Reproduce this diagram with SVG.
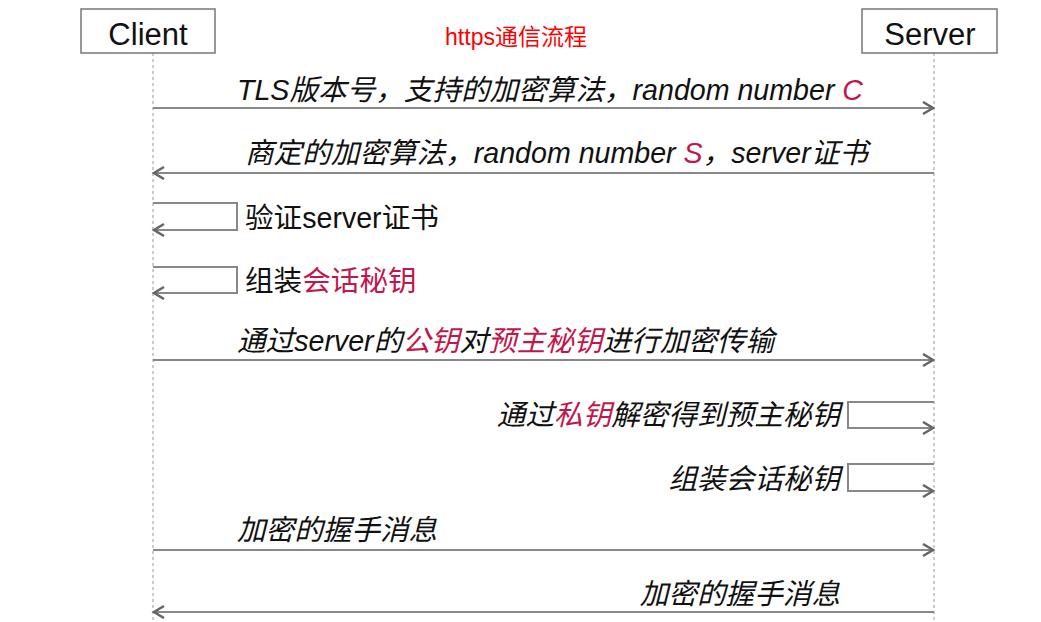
<svg xmlns="http://www.w3.org/2000/svg" width="1041" height="622" viewBox="0 0 1041 622">
<style>
.box{fill:#fff;stroke:#777;stroke-width:1.5}
.life{stroke:#aaa;stroke-width:1.2;stroke-dasharray:3,3;fill:none}
.msg{stroke:#888;stroke-width:2;fill:none}
.hdr{font-family:"Liberation Sans","Noto Sans CJK SC",sans-serif;font-size:31px;fill:#111;text-anchor:middle}
.lbl{font-family:"Liberation Sans","Noto Sans CJK SC",sans-serif;font-size:28.6px;fill:#111}
.it{font-style:italic}
.end{text-anchor:end}
.red{fill:#c2174b}
.title{font-family:"Liberation Sans","Noto Sans CJK SC",sans-serif;font-size:23px;fill:#ff0000;text-anchor:middle}
</style>
<defs>
<marker id="ah" markerWidth="14" markerHeight="16" refX="11" refY="7" orient="auto" markerUnits="userSpaceOnUse">
<path d="M1,1 L11,7 L1,13" fill="none" stroke="#666" stroke-width="2.5"/>
</marker>
</defs>
<rect width="1041" height="622" fill="#fff"/>
<g id="lifelines">
<line class="life" x1="153" y1="53" x2="153" y2="622"/>
<line class="life" x1="934" y1="53" x2="934" y2="622"/>
</g>
<g id="client"><rect class="box" x="81" y="9" width="134" height="44"/><text class="hdr" x="148" y="45">Client</text></g>
<g id="server"><rect class="box" x="862" y="9" width="135" height="44"/><text class="hdr" x="930" y="45">Server</text></g>
<g id="title"><text class="title" x="516" y="45">https通信流程</text></g>
<g id="connectors">
<line class="msg" x1="153" y1="108" x2="933" y2="108" marker-end="url(#ah)"/>
<line class="msg" x1="934" y1="173" x2="154" y2="173" marker-end="url(#ah)"/>
<polyline class="msg" points="153,203 237,203 237,230 154,230" marker-end="url(#ah)"/>
<polyline class="msg" points="153,267 237,267 237,293 154,293" marker-end="url(#ah)"/>
<line class="msg" x1="153" y1="360" x2="933" y2="360" marker-end="url(#ah)"/>
<polyline class="msg" points="934,402 848,402 848,428 933,428" marker-end="url(#ah)"/>
<polyline class="msg" points="934,464 848,464 848,491 933,491" marker-end="url(#ah)"/>
<line class="msg" x1="153" y1="550" x2="933" y2="550" marker-end="url(#ah)"/>
<line class="msg" x1="934" y1="612" x2="154" y2="612" marker-end="url(#ah)"/>
</g>
<g id="labels">
<text class="lbl it" x="237" y="100">TLS版本号，支持的加密算法，random number <tspan class="red">C</tspan></text>
<text class="lbl it" x="245" y="163">商定的加密算法，random number <tspan class="red">S</tspan>，server证书</text>
<text class="lbl" x="245" y="228">验证server证书</text>
<text class="lbl" x="245" y="291">组装<tspan class="red">会话秘钥</tspan></text>
<text class="lbl it" x="237" y="351">通过server的<tspan class="red">公钥</tspan>对<tspan class="red">预主秘钥</tspan>进行加密传输</text>
<text class="lbl it end" x="840" y="425">通过<tspan class="red">私钥</tspan>解密得到预主秘钥</text>
<text class="lbl it end" x="840" y="489">组装会话秘钥</text>
<text class="lbl it" x="237" y="540">加密的握手消息</text>
<text class="lbl it end" x="840" y="604">加密的握手消息</text>
</g>
</svg>
